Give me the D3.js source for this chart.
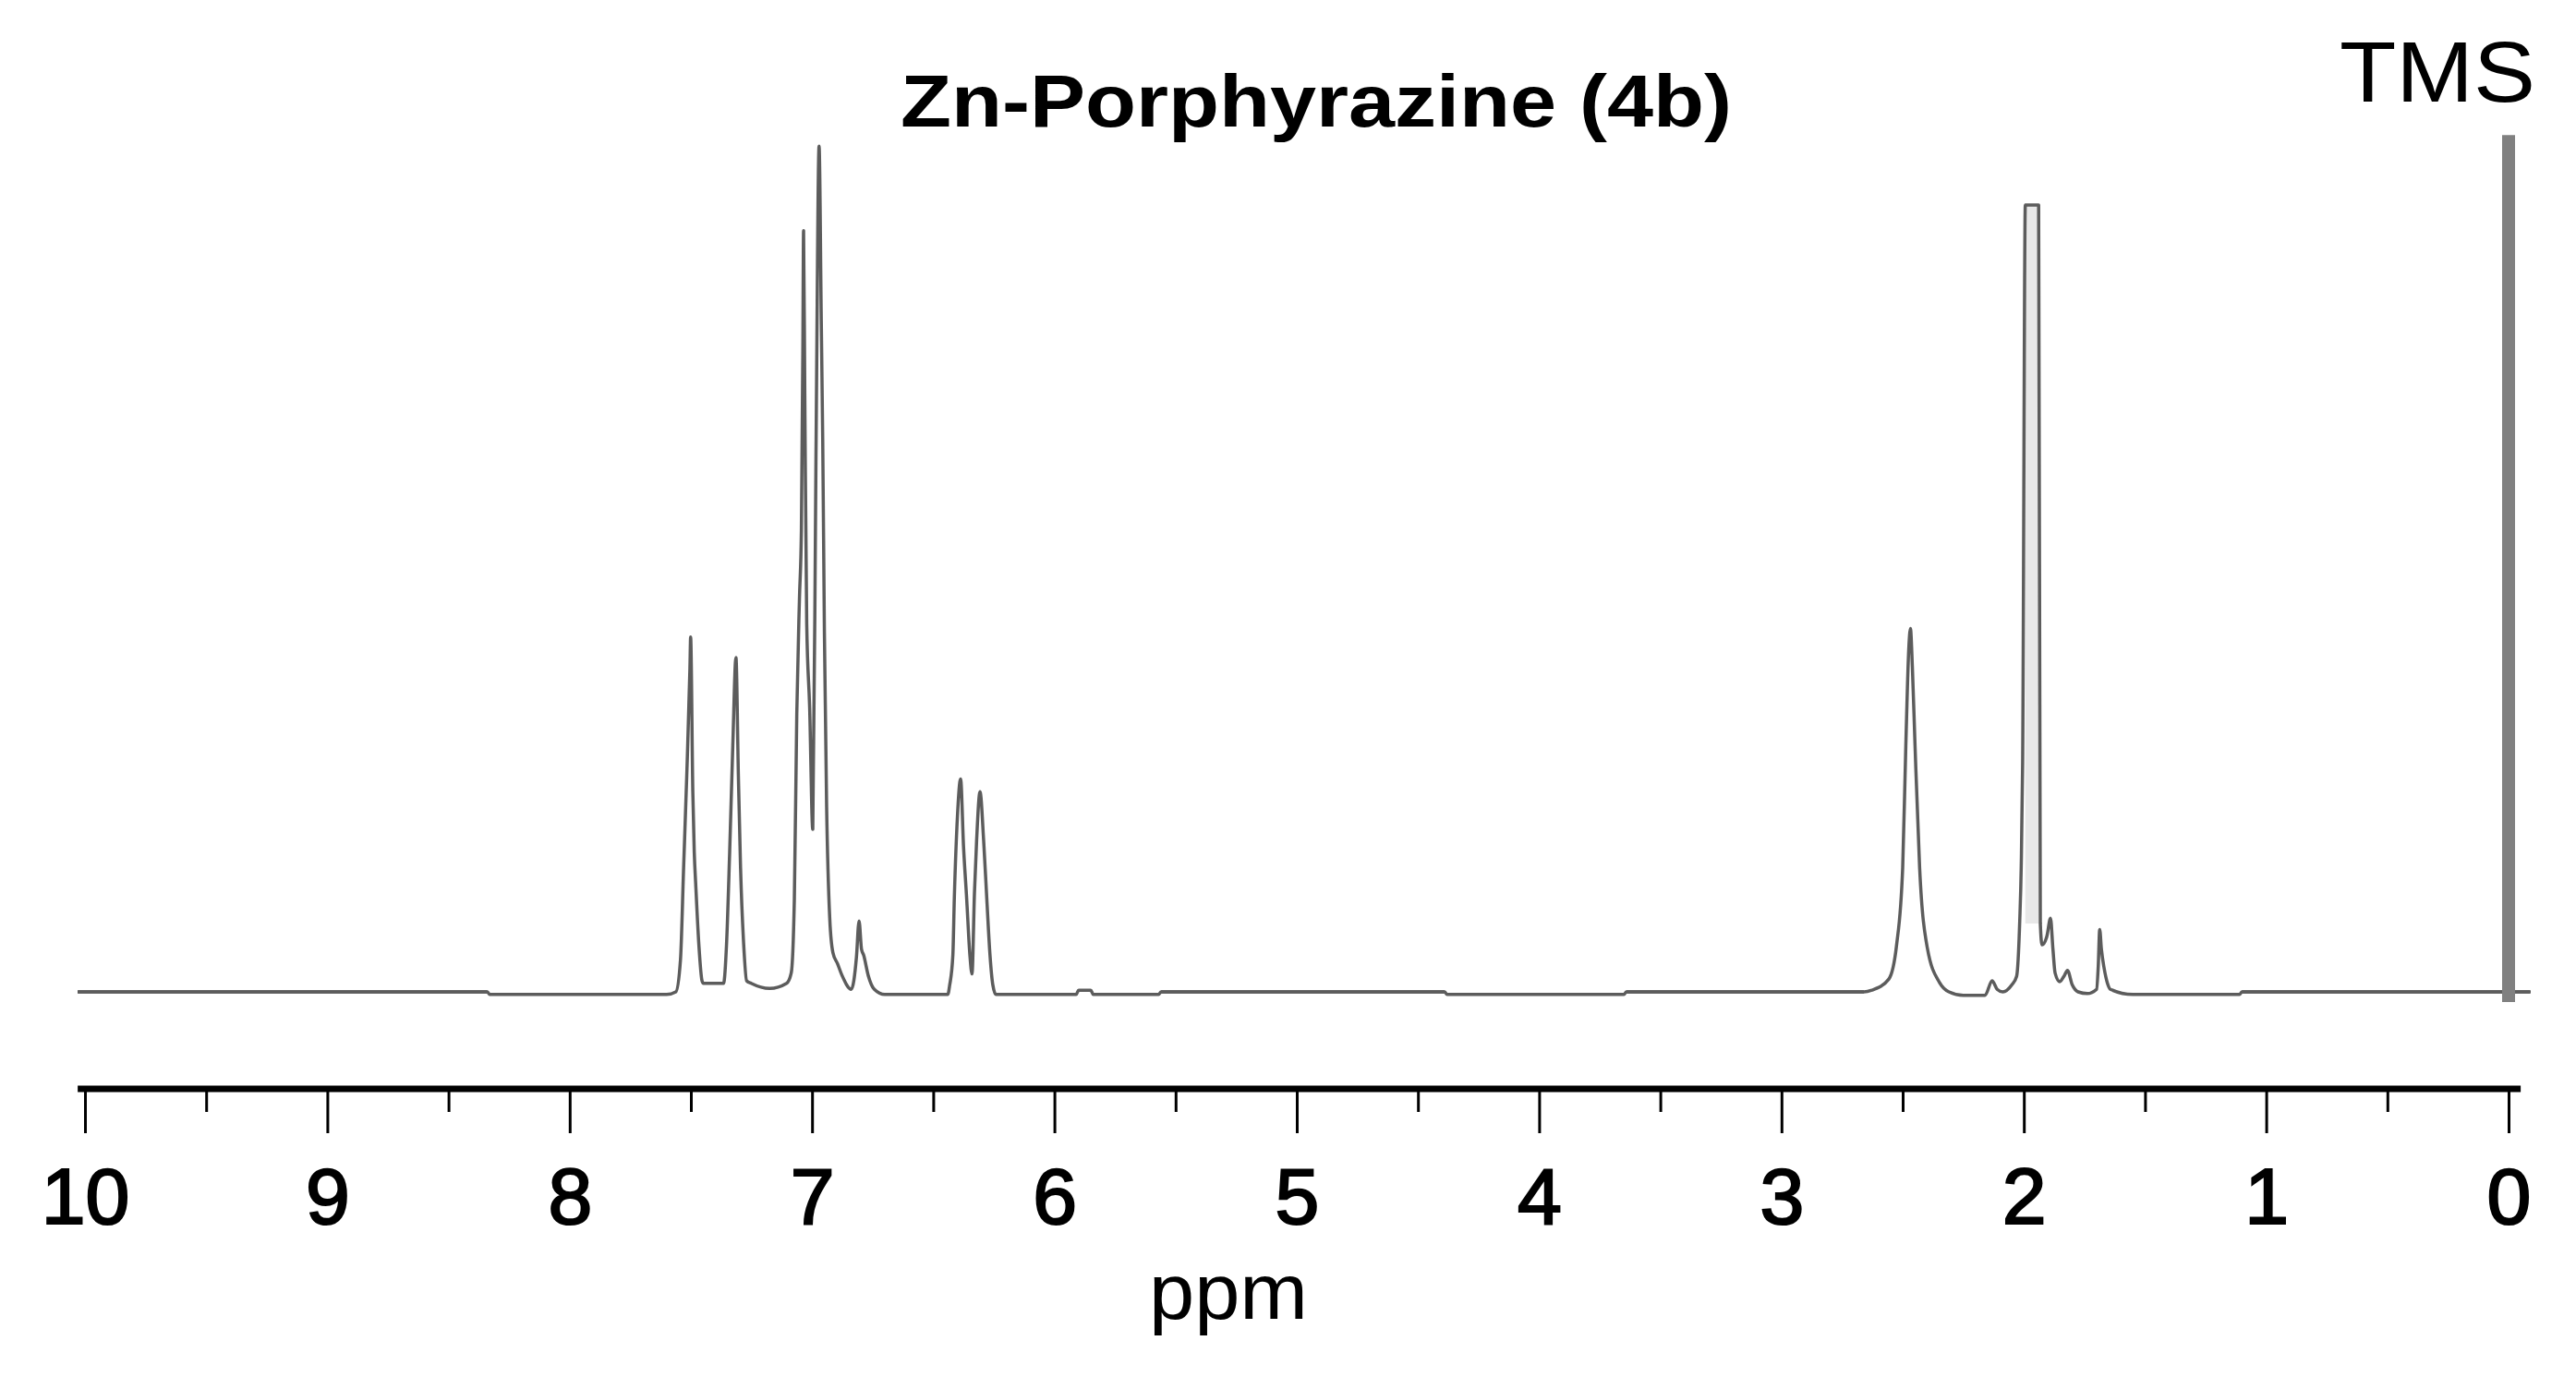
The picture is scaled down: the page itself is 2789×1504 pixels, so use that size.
<!DOCTYPE html>
<html>
<head>
<meta charset="utf-8">
<script src="https://cdn.jsdelivr.net/npm/d3@7"></script>
<style>
  html, body { margin: 0; padding: 0; background: #ffffff; }
  svg { display: block; }
</style>
</head>
<body>
<script>
// ---------------- DATA ----------------
const chartTitle = "Zn-Porphyrazine (4b)";
const refLabel = "TMS";
const axisLabel = "ppm";
const majorTicks = [10, 9, 8, 7, 6, 5, 4, 3, 2, 1, 0];
const minorTicks = [9.5, 8.5, 7.5, 6.5, 5.5, 4.5, 3.5, 2.5, 1.5, 0.5];

// spectrum trace: [ppm, intensity (TMS = 100)]
const spectrum = [
  [10.03,0],[8.34,0],[8.33,-0.3],[7.60,-0.3],[7.562,0],[7.543,3.7],[7.530,14.5],[7.517,25.3],[7.504,37.8],[7.501,41.5],
  [7.492,23.4],[7.486,16.3],[7.480,12.6],[7.467,5.5],[7.454,1.3],[7.448,1.0],[7.378,1.0],[7.365,1.0],[7.353,5.5],
  [7.340,16.3],[7.327,28.8],[7.314,39.1],[7.304,25.3],[7.295,14.5],[7.282,5.5],[7.270,1.3],[7.251,1.0],[7.175,0.4],
  [7.105,1.0],[7.086,2.2],[7.073,10.9],[7.063,32.5],[7.052,46],[7.044,54],[7.038,75],[7.035,89.0],[7.030,70],
  [7.022,43.0],[7.010,33.3],[6.997,19.0],[6.984,62],[6.971,98.9],[6.962,78.6],[6.956,64.6],[6.949,41.9],[6.940,21.9],
  [6.927,8.6],[6.914,4.6],[6.895,3.3],[6.876,1.9],[6.838,0.3],[6.817,4.0],[6.806,8.3],[6.796,5.0],[6.787,4.3],
  [6.768,1.9],[6.743,0.3],[6.70,-0.3],[6.44,-0.3],[6.432,0.8],[6.419,4.3],[6.413,10.9],[6.400,20.6],[6.387,24.9],
  [6.375,17.0],[6.362,10.9],[6.349,4.4],[6.340,2.1],[6.330,11.5],[6.321,17.7],[6.307,23.4],[6.292,17.7],[6.279,10.9],
  [6.266,4.4],[6.254,0.8],[6.241,-0.3],[5.91,-0.3],[5.90,0.2],[5.85,0.2],[5.84,-0.3],[5.57,-0.3],[5.56,0],[4.39,0],
  [4.38,-0.3],[3.65,-0.3],[3.64,0],[2.66,0],[2.627,0.2],[2.557,1.5],[2.525,5.5],[2.500,14.5],[2.487,28.8],[2.475,40.0],
  [2.468,42.5],[2.460,38.0],[2.449,28.8],[2.430,14.5],[2.398,5.1],[2.348,1.1],[2.309,0],[2.25,-0.4],[2.16,-0.4],
  [2.131,1.3],[2.11,0.3],[2.087,0],[2.050,0.8],[2.030,1.8],[2.017,8.3],[2.011,14.5],[2.005,26.8],[1.994,92.0],
  [1.939,92.0],[1.932,8.0],[1.925,5.5],[1.905,6.5],[1.890,8.6],[1.880,5.0],[1.871,2.2],[1.852,1.2],[1.835,1.8],
  [1.820,2.5],[1.800,0.8],[1.776,0],[1.738,-0.2],[1.700,0.3],[1.693,3.0],[1.687,7.3],[1.680,5.0],[1.669,2.8],
  [1.655,1.0],[1.643,0.3],[1.55,-0.3],[1.11,-0.3],[1.10,0],[-0.09,0]
];
// darker baseline segments [fromPpm, toPpm]
const blackBaseline = [[10.03, 8.34], [5.56, 4.39], [3.64, 2.66], [1.10, -0.09]];
// clipped (off-scale) solvent peak, drawn with light interior
const clippedPeak = { from: 1.994, to: 1.939, top: 92.0, bottom: 8.0 };
// TMS reference line
const tmsPeak = { ppm: 0, top: 100.2, bottom: -1.2 };
const axisExtent = [10.03, -0.05];

// ---------------- CHART ----------------
const W = 2789, H = 1504;
const svg = d3.select("body").append("svg")
  .attr("width", W).attr("height", H)
  .style("background", "#fff");

const x = d3.scaleLinear().domain([10, 0]).range([92, 2716]);
const y = d3.scaleLinear().domain([0, 100]).range([1074, 148]);
const axisY = 1179;
const font = "'Liberation Sans', Arial, Helvetica, sans-serif";

// light interior of clipped peak
svg.append("rect")
  .attr("x", x(clippedPeak.from)).attr("width", x(clippedPeak.to) - x(clippedPeak.from))
  .attr("y", y(clippedPeak.top)).attr("height", y(clippedPeak.bottom) - y(clippedPeak.top))
  .attr("fill", "#e8e8e8");

// black baseline segments
svg.append("g").selectAll("line").data(blackBaseline).join("line")
  .attr("x1", d => x(d[0])).attr("x2", d => x(d[1]))
  .attr("y1", y(0)).attr("y2", y(0))
  .attr("stroke", "#000").attr("stroke-width", 3);

// spectrum trace
const line = d3.line().x(d => x(d[0])).y(d => y(d[1])).curve(d3.curveMonotoneX);
svg.append("path").datum(spectrum)
  .attr("d", line)
  .attr("fill", "none")
  .attr("stroke", "#5c5c5c")
  .attr("stroke-width", 3.5)
  .attr("stroke-linejoin", "round");

// TMS bar
svg.append("line")
  .attr("x1", x(tmsPeak.ppm)).attr("x2", x(tmsPeak.ppm))
  .attr("y1", y(tmsPeak.top)).attr("y2", y(tmsPeak.bottom))
  .attr("stroke", "#808080").attr("stroke-width", 14);

// axis
const gAxis = svg.append("g").attr("transform", `translate(0,${axisY})`);
const major = d3.axisBottom(x).tickValues(majorTicks).tickSize(48).tickPadding(0)
  .tickFormat(d3.format("d"));
gAxis.call(major);
gAxis.select(".domain").remove();
gAxis.selectAll(".tick line").attr("stroke", "#000").attr("stroke-width", 3);
gAxis.selectAll(".tick text")
  .attr("y", 146).attr("dy", 0)
  .attr("fill", "#000")
  .attr("stroke", "#000").attr("stroke-width", 2.2)
  .style("font-family", font).style("font-size", "86px");

const gMinor = svg.append("g").attr("transform", `translate(0,${axisY})`);
gMinor.call(d3.axisBottom(x).tickValues(minorTicks).tickSize(25).tickFormat(""));
gMinor.select(".domain").remove();
gMinor.selectAll(".tick line").attr("stroke", "#000").attr("stroke-width", 3);

svg.append("line")
  .attr("x1", x(axisExtent[0])).attr("x2", x(axisExtent[1]))
  .attr("y1", axisY).attr("y2", axisY)
  .attr("stroke", "#000").attr("stroke-width", 7);

// texts
svg.append("text").text(chartTitle)
  .attr("x", 975).attr("y", 137)
  .attr("textLength", 900).attr("lengthAdjust", "spacingAndGlyphs")
  .style("font-family", font).style("font-weight", "bold").style("font-size", "80px")
  .attr("fill", "#000");

svg.append("text").text(refLabel)
  .attr("x", 2533).attr("y", 110)
  .attr("textLength", 212).attr("lengthAdjust", "spacingAndGlyphs")
  .style("font-family", font).style("font-size", "92px")
  .attr("fill", "#000");

svg.append("text").text(axisLabel)
  .attr("x", 1330).attr("y", 1428)
  .attr("text-anchor", "middle")
  .attr("textLength", 172).attr("lengthAdjust", "spacingAndGlyphs")
  .style("font-family", font).style("font-size", "86px")
  .attr("fill", "#000");
</script>
</body>
</html>
